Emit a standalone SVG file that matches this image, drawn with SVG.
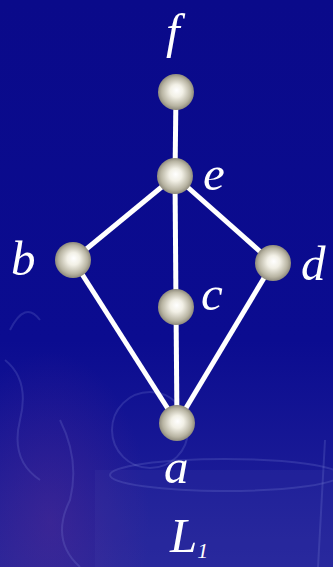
<svg xmlns="http://www.w3.org/2000/svg" width="333" height="567" viewBox="0 0 333 567">
<defs>
<linearGradient id="bg" x1="0" y1="0" x2="0" y2="1">
<stop offset="0" stop-color="#0a0a8a"/>
<stop offset="0.6" stop-color="#0b0c90"/>
<stop offset="1" stop-color="#24249a"/>
</linearGradient>
<radialGradient id="warm" cx="0.15" cy="0.92" r="0.3">
<stop offset="0" stop-color="#6a3090" stop-opacity="0.35"/>
<stop offset="1" stop-color="#6a3090" stop-opacity="0"/>
</radialGradient>
<radialGradient id="ball" cx="0.5" cy="0.5" r="0.5" fx="0.52" fy="0.45">
<stop offset="0" stop-color="#ffffff"/>
<stop offset="0.35" stop-color="#f2f0e6"/>
<stop offset="0.8" stop-color="#b8b4a2"/>
<stop offset="1" stop-color="#8e8a7c"/>
</radialGradient>
<style>
.edge{stroke:#ffffff;stroke-width:5;stroke-linecap:butt}
.node{fill:url(#ball)}
.lbl{fill:#ffffff;font-family:"Liberation Serif","DejaVu Serif",serif;font-style:italic;font-size:49px}
.sk{fill:none;stroke:#8a94e0;stroke-width:2;opacity:0.2}
</style>
</defs>
<rect width="333" height="567" fill="url(#bg)"/>
<rect width="333" height="567" fill="url(#warm)"/>
<rect x="95" y="470" width="238" height="97" fill="#4a4ab0" opacity="0.15"/>
<g id="sketch">
<ellipse cx="225" cy="475" rx="115" ry="16" class="sk"/>
<circle cx="150" cy="430" r="38" class="sk"/>
<path class="sk" d="M10,330 Q25,300 40,320 M5,360 Q30,380 20,420 Q10,460 40,480 M60,420 Q80,460 70,500 Q50,540 80,567 M325,440 L318,567"/>
</g>
<g id="connectors">
<line class="edge" x1="176" y1="92" x2="175" y2="176"/>
<line class="edge" x1="175" y1="176" x2="73" y2="260"/>
<line class="edge" x1="175" y1="176" x2="273" y2="263"/>
<line class="edge" x1="175" y1="176" x2="176" y2="307"/>
<line class="edge" x1="176" y1="307" x2="177" y2="423"/>
<line class="edge" x1="73" y1="260" x2="177" y2="423"/>
<line class="edge" x1="273" y1="263" x2="177" y2="423"/>
</g>
<g id="node-f"><circle class="node" cx="176" cy="92" r="18"/><text class="lbl" x="166" y="48">f</text></g>
<g id="node-e"><circle class="node" cx="175" cy="176" r="18"/><text class="lbl" x="203" y="190">e</text></g>
<g id="node-b"><circle class="node" cx="73" cy="260" r="18"/><text class="lbl" x="11" y="275">b</text></g>
<g id="node-d"><circle class="node" cx="273" cy="263" r="18"/><text class="lbl" x="301" y="280">d</text></g>
<g id="node-c"><circle class="node" cx="176" cy="307" r="18"/><text class="lbl" x="201" y="310">c</text></g>
<g id="node-a"><circle class="node" cx="177" cy="423" r="18"/><text class="lbl" x="164" y="483">a</text></g>
<g id="title"><text class="lbl" x="170" y="552">L<tspan font-size="22" dy="6">1</tspan></text></g>
</svg>
